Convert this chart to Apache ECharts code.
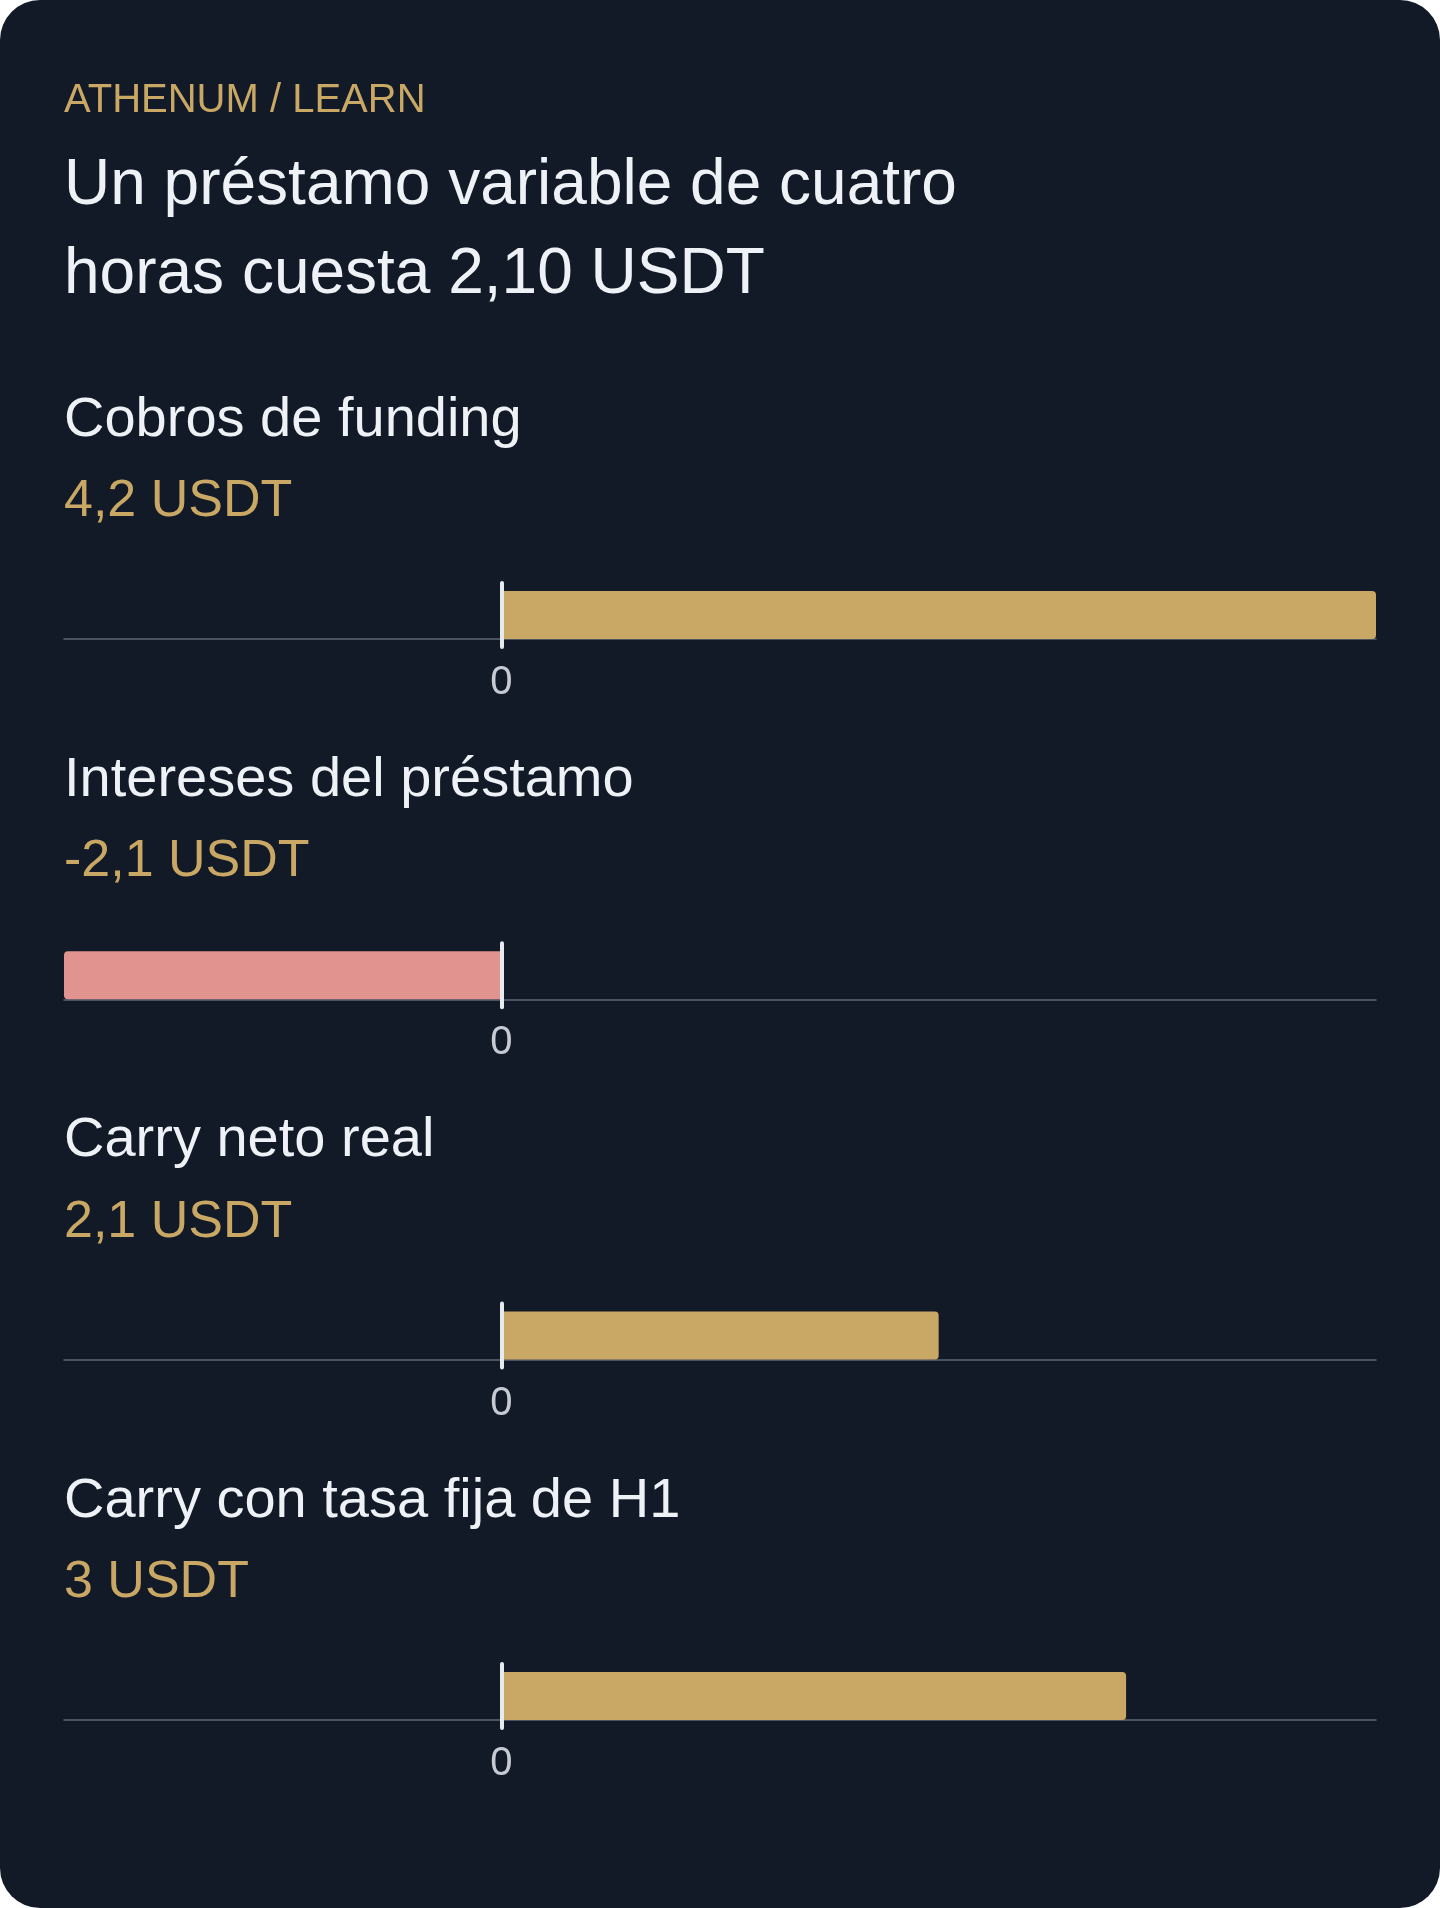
<!DOCTYPE html>
<html>
<head>
<meta charset="utf-8">
<script src="https://cdn.jsdelivr.net/npm/echarts@6/dist/echarts.min.js"></script>
<style>
    html,body{margin:0;padding:0;background:#ffffff;}
    #card{width:1440px;height:1908px;border-radius:40px;overflow:hidden;}
</style>
</head>
<body>
<div id="card"></div>
<script>
// 数据
var kicker = 'ATHENUM / LEARN';
var headline = ['Un préstamo variable de cuatro', 'horas cuesta 2,10 USDT'];
var labels = ['Cobros de funding', 'Intereses del préstamo', 'Carry neto real', 'Carry con tasa fija de H1'];
var values = [4.2, -2.1, 2.1, 3];
var unit = 'USDT';

// 样式
var gold = '#c9a764';
var pink = '#e1938f';
var white = '#eef1f6';
var font = '"Liberation Sans", Arial, sans-serif';

var xMin = Math.min.apply(null, values.concat(0));
var xMax = Math.max.apply(null, values.concat(0));

function fmt(v) {
    return String(v).replace('.', ',') + ' ' + unit;
}

// 文本位置: baseline -> top
function topFor(baseline, size, lh) {
    return baseline - 0.3465 * size - lh / 2 + 3;
}

var titles = [];
var grids = [];
var xAxes = [];
var yAxes = [];
var series = [];

titles.push({
    text: kicker, left: 64, top: topFor(112.3, 40, 40), padding: 0,
    textStyle: {color: gold, fontSize: 40, fontWeight: 'normal', fontFamily: font, lineHeight: 40}
});
titles.push({
    text: headline.join('\n'), left: 64, top: topFor(205.5, 64, 88), padding: 0,
    textStyle: {color: white, fontSize: 64, fontWeight: 'normal', fontFamily: font, lineHeight: 89}
});

var step = 360.3;
for (var i = 0; i < values.length; i++) {
    var axisY = 639 + i * step;
    titles.push({
        text: labels[i], left: 64, top: topFor(axisY - 202.3, 56, 56), padding: 0,
        textStyle: {color: white, fontSize: 56, fontWeight: 'normal', fontFamily: font, lineHeight: 56}
    });
    titles.push({
        text: fmt(values[i]), left: 64, top: topFor(axisY - 122.3, 52, 52), padding: 0,
        textStyle: {color: gold, fontSize: 52, fontWeight: 'normal', fontFamily: font, lineHeight: 52}
    });
    grids.push({left: 64, right: 64, top: axisY - 56, height: 64, outerBoundsMode: 'none'});
    xAxes.push({
        type: 'value', gridIndex: i, min: xMin, max: xMax, interval: 2.1, offset: -8,
        axisLine: {show: true, lineStyle: {color: '#5d6775', width: 1.5}},
        axisTick: {show: false},
        splitLine: {show: false},
        axisLabel: {
            color: '#c5cad3', fontSize: 40, fontFamily: font, margin: 24,
            formatter: function (v) { return Math.abs(v) < 1e-9 ? '0' : ''; }
        }
    });
    yAxes.push({
        type: 'category', gridIndex: i, data: [labels[i]], z: 10,
        axisLine: {show: true, onZero: true, lineStyle: {color: '#e6e9ee', width: 4}},
        axisTick: {show: false},
        axisLabel: {show: false},
        splitLine: {show: false}
    });
    var neg = values[i] < 0;
    series.push({
        type: 'bar', xAxisIndex: i, yAxisIndex: i, barWidth: 48,
        data: [values[i]],
        itemStyle: {color: neg ? pink : gold, borderRadius: neg ? [4, 0, 0, 4] : [0, 4, 4, 0]},
        silent: true
    });
}

var chart = echarts.init(document.getElementById('card'));
chart.setOption({
    animation: false,
    backgroundColor: '#121a27',
    title: titles,
    grid: grids,
    xAxis: xAxes,
    yAxis: yAxes,
    series: series
});
</script>
</body>
</html>
